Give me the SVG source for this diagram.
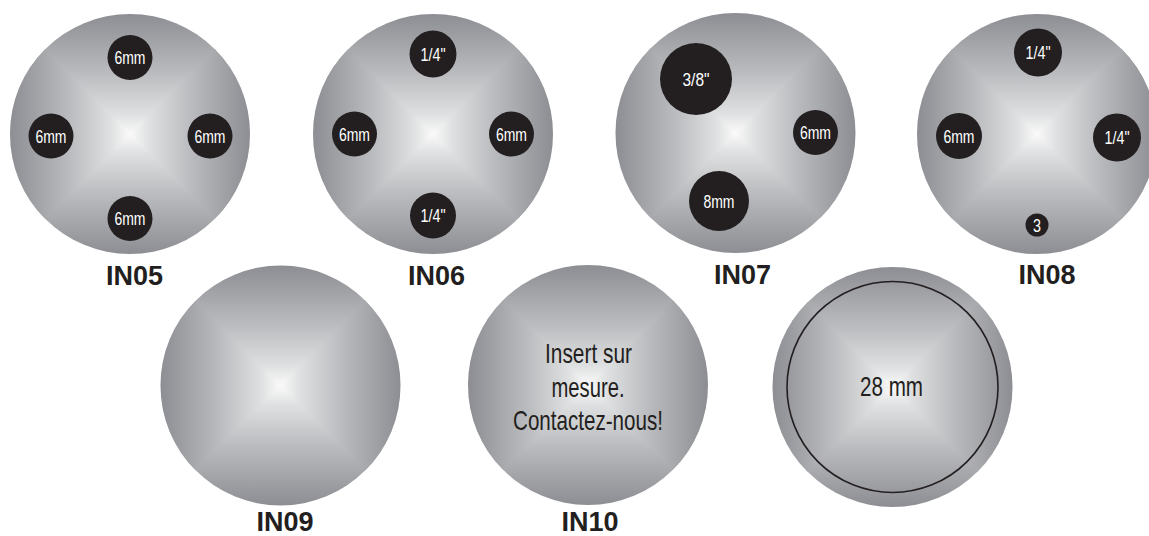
<svg xmlns="http://www.w3.org/2000/svg" xmlns:xlink="http://www.w3.org/1999/xlink" width="1149" height="536" viewBox="0 0 1149 536">
<style>
.hole{fill:#231f20}
.ht{font-family:"Liberation Sans",Arial,sans-serif;font-size:19px;fill:#ffffff;text-anchor:middle}
.lbl{font-family:"Liberation Sans",Arial,sans-serif;font-size:27px;font-weight:bold;fill:#231f20;text-anchor:middle}
.ct{font-family:"Liberation Sans",Arial,sans-serif;font-size:28px;fill:#231f20;text-anchor:middle}
</style>
<defs>
<linearGradient id="gv" gradientUnits="userSpaceOnUse" x1="0" y1="-120" x2="0" y2="120">
<stop offset="0" stop-color="#8d8e93"/><stop offset="0.25" stop-color="#bbbcbf"/><stop offset="0.42" stop-color="#dfe0e1"/><stop offset="0.5" stop-color="#fafafa"/><stop offset="0.58" stop-color="#dfe0e1"/><stop offset="0.75" stop-color="#bbbcbf"/><stop offset="1" stop-color="#8d8e93"/>
</linearGradient>
<linearGradient id="gh" gradientUnits="userSpaceOnUse" x1="-120" y1="0" x2="120" y2="0">
<stop offset="0" stop-color="#8d8e93"/><stop offset="0.25" stop-color="#bbbcbf"/><stop offset="0.42" stop-color="#dfe0e1"/><stop offset="0.5" stop-color="#fafafa"/><stop offset="0.58" stop-color="#dfe0e1"/><stop offset="0.75" stop-color="#bbbcbf"/><stop offset="1" stop-color="#8d8e93"/>
</linearGradient>
<clipPath id="cc"><circle cx="0" cy="0" r="120"/></clipPath>
<g id="disc">
<g clip-path="url(#cc)">
<rect x="-121" y="-121" width="242" height="242" fill="url(#gv)"/>
<polygon points="0,0 -121,-121 -121,121" fill="url(#gh)"/>
<polygon points="0,0 121,-121 121,121" fill="url(#gh)"/>
</g>
</g>
</defs>

<g id="IN05">
<use xlink:href="#disc" href="#disc" transform="translate(130,134)"/>
<circle class="hole" cx="130" cy="57.5" r="22.5"/><text class="ht" x="130" y="64" textLength="31" lengthAdjust="spacingAndGlyphs">6mm</text>
<circle class="hole" cx="51" cy="136" r="22.5"/><text class="ht" x="51" y="142.5" textLength="31" lengthAdjust="spacingAndGlyphs">6mm</text>
<circle class="hole" cx="210" cy="136" r="22.5"/><text class="ht" x="210" y="142.5" textLength="31" lengthAdjust="spacingAndGlyphs">6mm</text>
<circle class="hole" cx="130" cy="218.5" r="22.5"/><text class="ht" x="130" y="225" textLength="31" lengthAdjust="spacingAndGlyphs">6mm</text>
<text class="lbl" x="134.5" y="285">IN05</text>
</g>

<g id="IN06">
<use xlink:href="#disc" href="#disc" transform="translate(433,134)"/>
<circle class="hole" cx="433" cy="54" r="23.5"/><text class="ht" x="433" y="60.5" textLength="25" lengthAdjust="spacingAndGlyphs">1/4"</text>
<circle class="hole" cx="354.5" cy="134" r="22.5"/><text class="ht" x="354.5" y="140.5" textLength="31" lengthAdjust="spacingAndGlyphs">6mm</text>
<circle class="hole" cx="511.5" cy="134" r="22.5"/><text class="ht" x="511.5" y="140.5" textLength="31" lengthAdjust="spacingAndGlyphs">6mm</text>
<circle class="hole" cx="433" cy="215.5" r="23"/><text class="ht" x="433" y="222" textLength="25" lengthAdjust="spacingAndGlyphs">1/4"</text>
<text class="lbl" x="436.5" y="285">IN06</text>
</g>

<g id="IN07">
<use xlink:href="#disc" href="#disc" transform="translate(735.5,133)"/>
<circle class="hole" cx="696" cy="79" r="36"/><text class="ht" x="696" y="85.5" textLength="27" lengthAdjust="spacingAndGlyphs">3/8"</text>
<circle class="hole" cx="815.5" cy="132.5" r="22.5"/><text class="ht" x="815.5" y="139" textLength="31" lengthAdjust="spacingAndGlyphs">6mm</text>
<circle class="hole" cx="719" cy="201" r="30"/><text class="ht" x="719" y="207.5" textLength="31" lengthAdjust="spacingAndGlyphs">8mm</text>
<text class="lbl" x="742.5" y="284">IN07</text>
</g>

<g id="IN08">
<use xlink:href="#disc" href="#disc" transform="translate(1037,134)"/>
<circle class="hole" cx="1038" cy="52.5" r="24"/><text class="ht" x="1038" y="59" textLength="25" lengthAdjust="spacingAndGlyphs">1/4"</text>
<circle class="hole" cx="959" cy="136" r="23"/><text class="ht" x="959" y="142.5" textLength="31" lengthAdjust="spacingAndGlyphs">6mm</text>
<circle class="hole" cx="1117" cy="137.5" r="24"/><text class="ht" x="1117" y="144" textLength="25" lengthAdjust="spacingAndGlyphs">1/4"</text>
<circle class="hole" cx="1037" cy="225" r="11.5"/><text class="ht" x="1037" y="231.5" textLength="8" lengthAdjust="spacingAndGlyphs">3</text>
<text class="lbl" x="1047" y="284">IN08</text>
</g>

<g id="IN09">
<use xlink:href="#disc" href="#disc" transform="translate(280.5,385.5)"/>
<text class="lbl" x="285" y="531">IN09</text>
</g>

<g id="IN10">
<use xlink:href="#disc" href="#disc" transform="translate(588,385)"/>
<text class="ct" x="588.5" y="363" textLength="87" lengthAdjust="spacingAndGlyphs">Insert sur</text>
<text class="ct" x="588" y="396.5" textLength="73" lengthAdjust="spacingAndGlyphs">mesure.</text>
<text class="ct" x="588" y="430" textLength="150" lengthAdjust="spacingAndGlyphs">Contactez-nous!</text>
<text class="lbl" x="590" y="531">IN10</text>
</g>

<g id="custom28">
<use xlink:href="#disc" href="#disc" transform="translate(892.5,387)"/>
<circle cx="892.5" cy="387" r="105.5" fill="none" stroke="#231f20" stroke-width="1.6"/>
<text class="ct" x="891.5" y="395.5" font-size="29" textLength="63" lengthAdjust="spacingAndGlyphs">28 mm</text>
</g>
</svg>
